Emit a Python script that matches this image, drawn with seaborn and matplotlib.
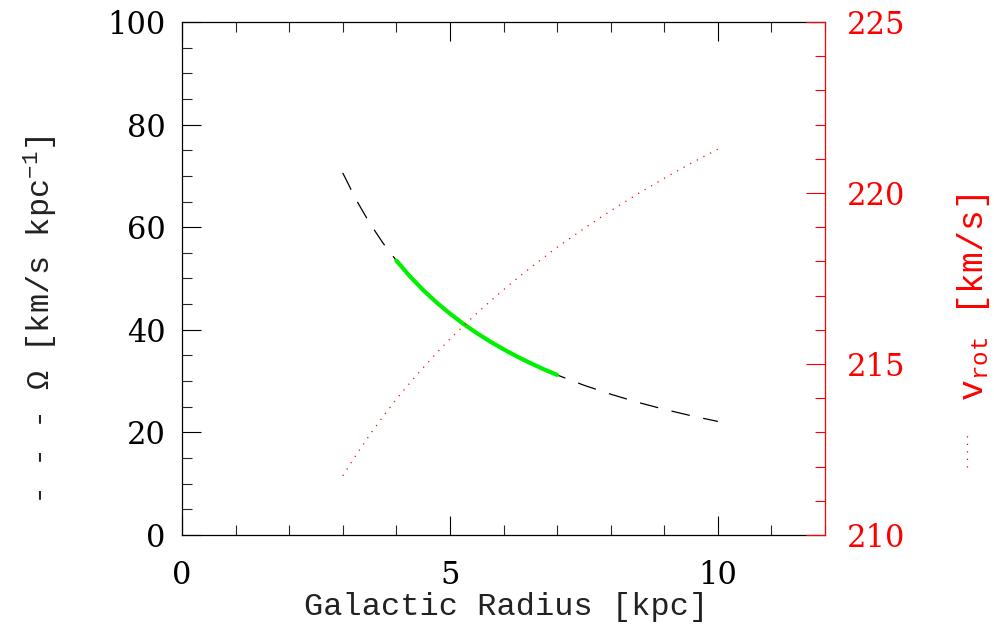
import matplotlib
matplotlib.use("Agg")
import matplotlib.pyplot as plt
import seaborn as sns
import pandas as pd
from matplotlib.lines import Line2D
from matplotlib.ticker import MultipleLocator

sns.set_theme(style="white")
plt.rcParams['font.family'] = ['DejaVu Serif']
plt.rcParams['mathtext.fontset'] = 'custom'
plt.rcParams['mathtext.rm'] = 'Liberation Mono'
plt.rcParams['mathtext.it'] = 'Liberation Mono'
plt.rcParams['mathtext.default'] = 'rm'

# Data
radius = [3.0, 3.25, 3.5, 3.75, 4.0, 4.25, 4.5, 4.75, 5.0, 5.25, 5.5, 5.75, 6.0,
          6.25, 6.5, 6.75, 7.0, 7.5, 8.0, 8.5, 9.0, 9.5, 10.0]
omega = [70.58, 65.34, 60.83, 56.92, 53.49, 50.46, 47.75, 45.33, 43.15, 41.16, 39.36,
         37.71, 36.20, 34.80, 33.51, 32.31, 31.20, 29.19, 27.44, 25.88, 24.49, 23.25, 22.13]
v_rot = [211.73, 212.34, 212.92, 213.46, 213.97, 214.44, 214.89, 215.32, 215.73, 216.11,
         216.48, 216.83, 217.17, 217.50, 217.81, 218.11, 218.41, 218.96, 219.48, 219.97,
         220.43, 220.87, 221.28]
green_range = (4.0, 7.0)

df = pd.DataFrame({"R": radius, "Omega": omega, "v": v_rot})
dg = df[(df.R >= green_range[0]) & (df.R <= green_range[1])]

fig = plt.figure(figsize=(9.94, 6.34), dpi=100)
ax = fig.add_axes([0.1831, 0.1562, 0.6469, 0.8091])
ax2 = ax.twinx()

sns.lineplot(data=df, x="R", y="Omega", ax=ax, color="black", lw=0.9,
             linestyle=(0, (15, 11)), estimator=None, sort=False)
sns.lineplot(data=dg, x="R", y="Omega", ax=ax, color="#00f000", lw=3.0,
             estimator=None, sort=False)
sns.lineplot(data=df, x="R", y="v", ax=ax2, color="red", lw=0.9,
             linestyle=(0, (1, 5)), estimator=None, sort=False)

ax.set_xlim(0, 12)
ax.set_ylim(0, 100)
ax2.set_ylim(210, 225)

fs = 22
ax.xaxis.set_major_locator(MultipleLocator(5))
ax.xaxis.set_minor_locator(MultipleLocator(1))
ax.yaxis.set_major_locator(MultipleLocator(20))
ax.yaxis.set_minor_locator(MultipleLocator(5))
ax2.yaxis.set_major_locator(MultipleLocator(5))
ax2.yaxis.set_minor_locator(MultipleLocator(1))

ax.tick_params(axis='both', which='major', direction='in', length=14, width=0.8,
               labelsize=fs, colors='black')
ax.tick_params(axis='both', which='minor', direction='in', length=7, width=0.8)
ax.tick_params(axis='x', top=True, bottom=True, which='both', pad=18)
ax.tick_params(axis='y', left=True, right=False, which='both', pad=12)
ax2.tick_params(axis='y', which='major', direction='in', length=14, width=0.8,
                labelsize=fs, colors='red', pad=16)
ax2.tick_params(axis='y', which='minor', direction='in', length=7, width=0.8, colors='red')

for s in ['left', 'bottom', 'top']:
    ax.spines[s].set_color('black')
    ax.spines[s].set_linewidth(0.9)
ax.spines['right'].set_visible(False)
for s in ['left', 'bottom', 'top']:
    ax2.spines[s].set_visible(False)
ax2.spines['right'].set_color('red')
ax2.spines['right'].set_linewidth(0.9)

ax.set_xlabel("")
ax.set_ylabel("")
ax2.set_ylabel("")

mono = ['Liberation Mono', 'DejaVu Sans Mono']
fig.text(506 / 994, 1 - 607 / 634, "Galactic Radius [kpc]", ha='center', va='center',
         color='#222222', family=mono, size=23)
fig.text(41 / 994, 1 - 320 / 634, "- - - Ω [km/s kpc$^{-1}$]", rotation=90,
         ha='center', va='center', color='#222222', family=mono, size=23)
fig.text(973 / 994, 1 - 298 / 634, "v$_{rot}$ [km/s]", rotation=90,
         ha='center', va='center', color='red', family=mono, size=25)
# dotted line-style sample next to the right label
fig.add_artist(Line2D([967 / 994, 967 / 994], [1 - 467 / 634, 1 - 432 / 634],
                      transform=fig.transFigure, color='red', lw=0.9,
                      linestyle=(0, (1, 5))))

fig.savefig("out.png", dpi=100)
